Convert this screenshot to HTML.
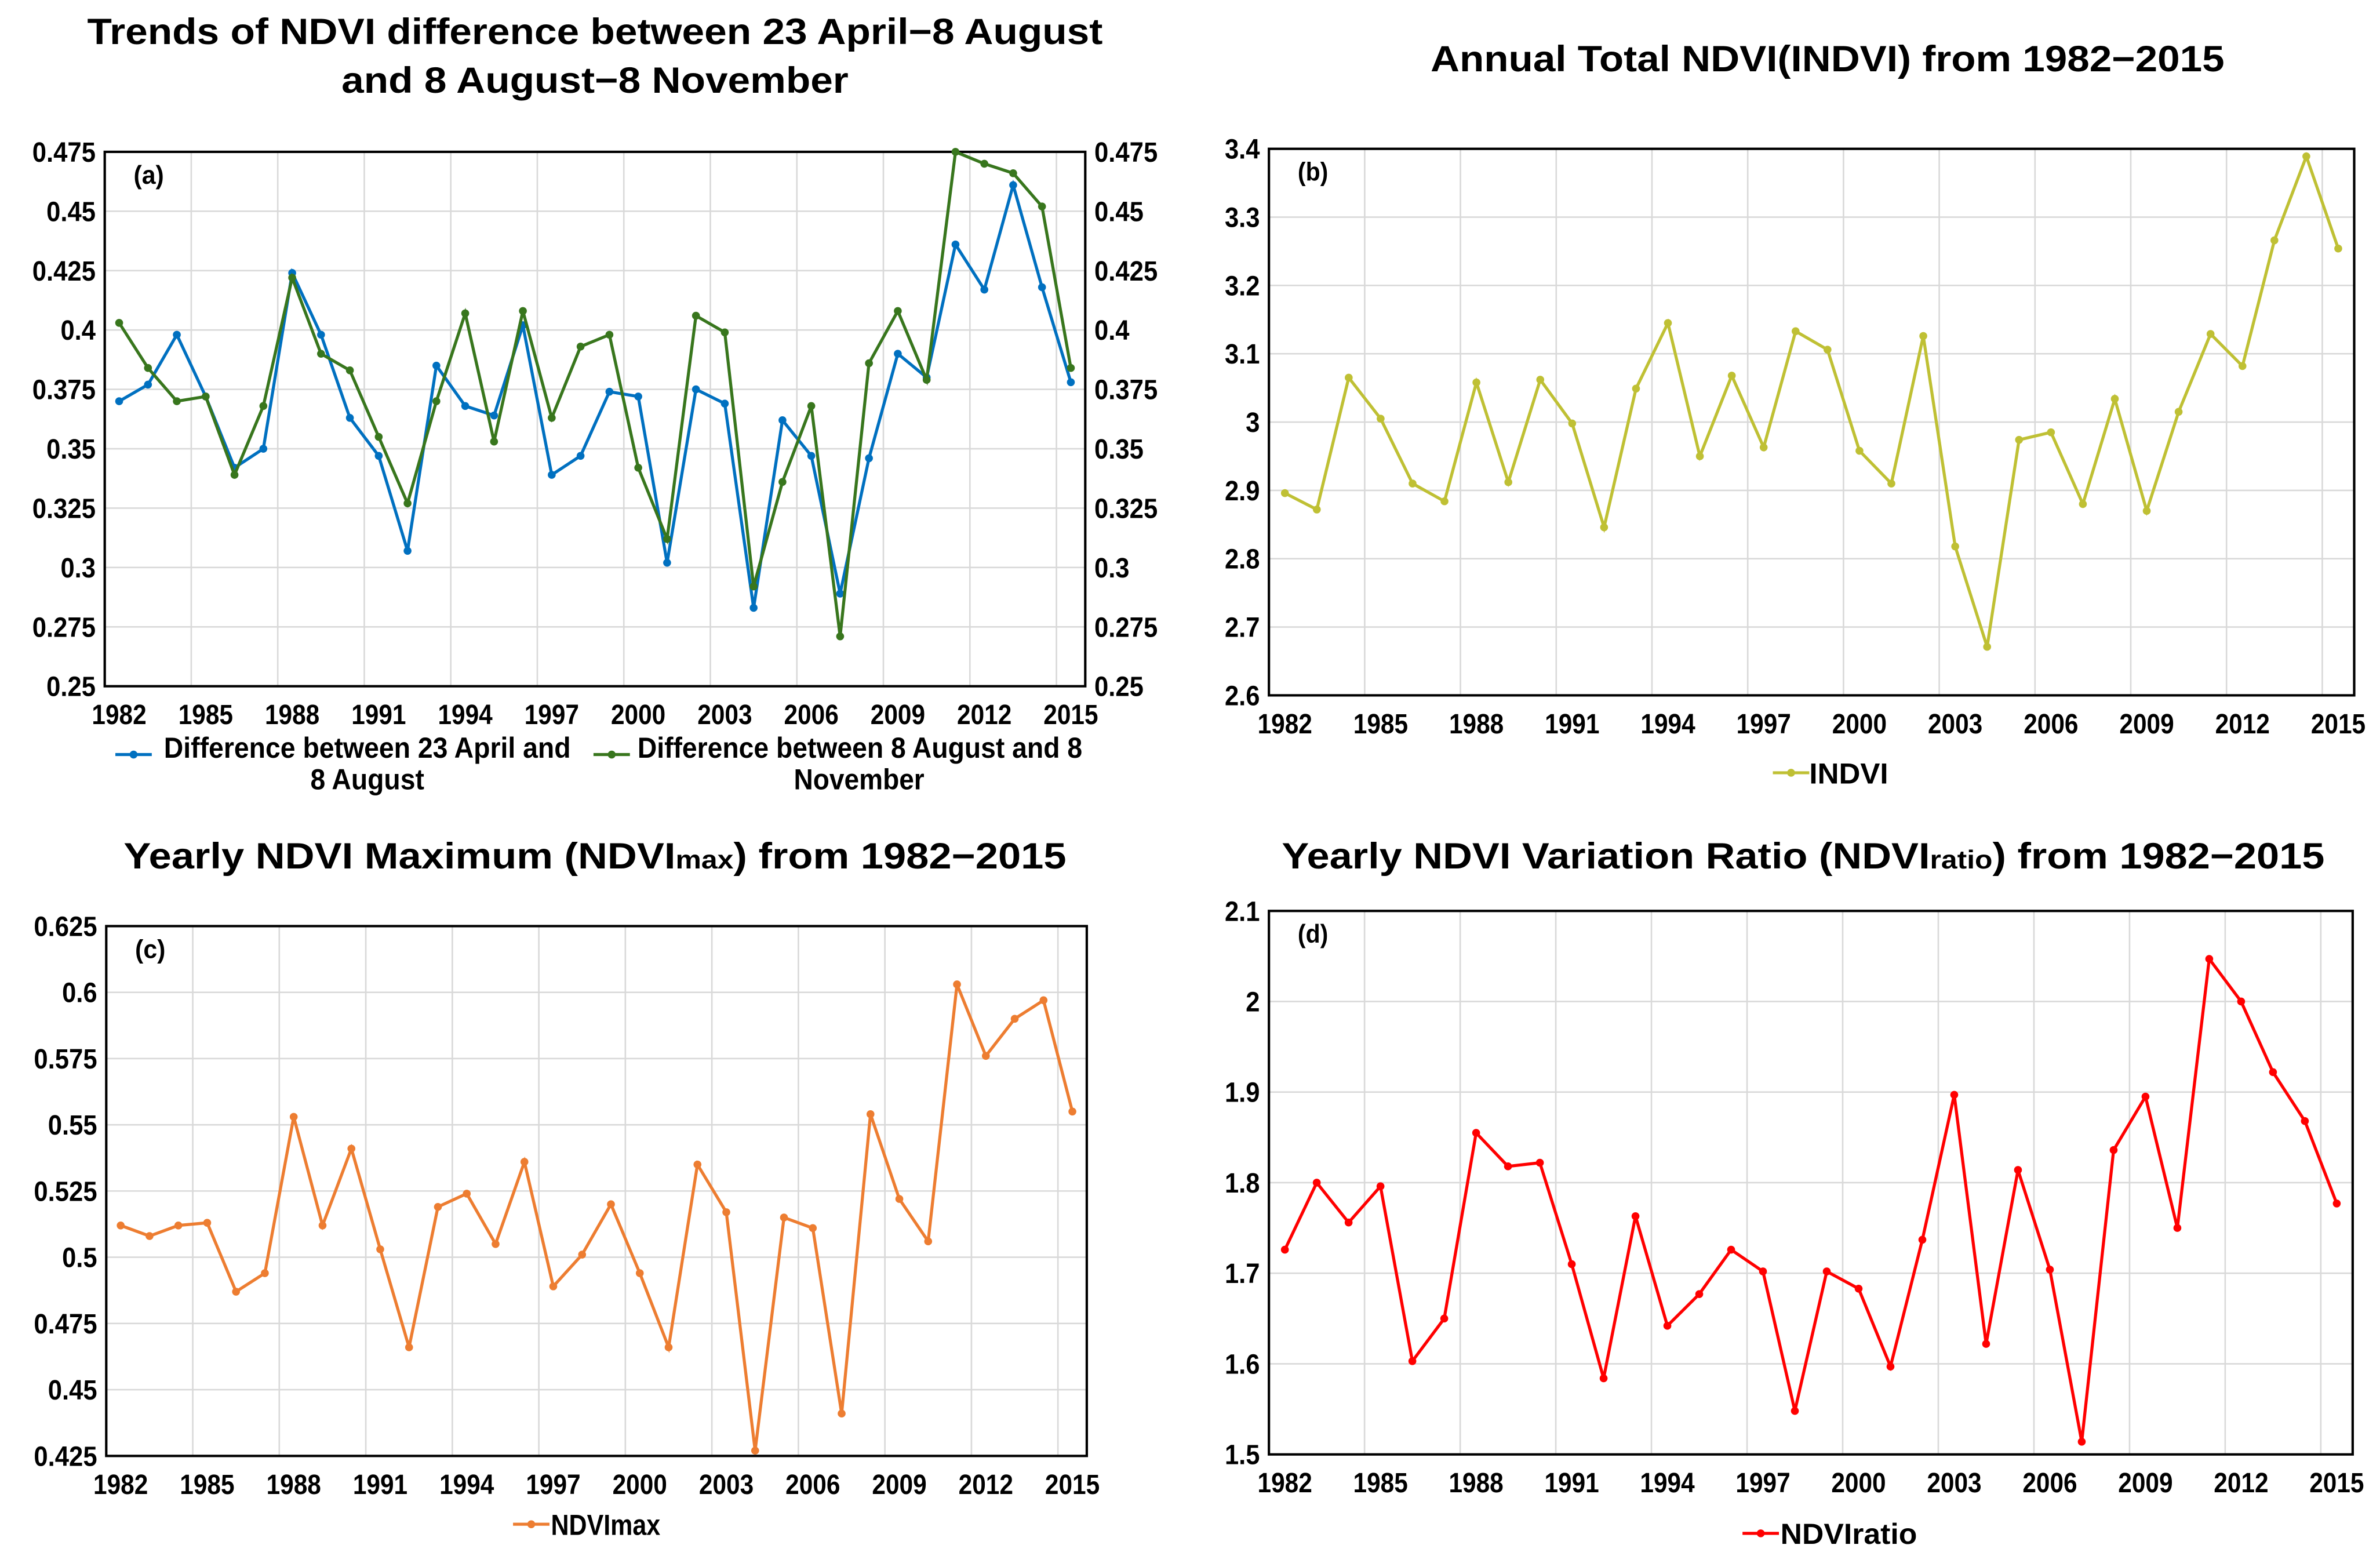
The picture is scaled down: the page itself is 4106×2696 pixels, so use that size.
<!DOCTYPE html>
<html><head><meta charset="utf-8">
<style>
html,body{margin:0;padding:0;background:#fff;}
svg{display:block;}
text{font-family:"Liberation Sans Narrow","Liberation Sans",sans-serif;font-weight:bold;fill:#000;}
</style></head>
<body>
<svg id="chart" width="4106" height="2696" viewBox="0 0 1568 1029.5" xmlns="http://www.w3.org/2000/svg">
<rect width="1568" height="1029.5" fill="#fff"/>
</svg>
<script>
const years = [];
for (let y = 1982; y <= 2015; y++) years.push(y);
const diffAprAug = [0.370,0.377,0.398,0.372,0.342,0.350,0.424,0.398,0.363,0.347,0.307,0.385,0.368,0.364,0.402,0.339,0.347,0.374,0.372,0.302,0.375,0.369,0.283,0.362,0.347,0.289,0.346,0.390,0.380,0.436,0.417,0.461,0.418,0.378];
const diffAugNov = [0.403,0.384,0.370,0.372,0.339,0.368,0.422,0.390,0.383,0.355,0.327,0.370,0.407,0.353,0.408,0.363,0.393,0.398,0.342,0.312,0.406,0.399,0.292,0.336,0.368,0.271,0.386,0.408,0.379,0.475,0.470,0.466,0.452,0.384];
const indvi = [2.896,2.872,3.065,3.005,2.910,2.884,3.058,2.912,3.062,2.998,2.846,3.049,3.145,2.950,3.068,2.963,3.133,3.106,2.958,2.910,3.126,2.818,2.671,2.974,2.985,2.880,3.034,2.870,3.015,3.129,3.082,3.266,3.389,3.254];
const ndviMax = [0.512,0.508,0.512,0.513,0.487,0.494,0.553,0.512,0.541,0.503,0.466,0.519,0.524,0.505,0.536,0.489,0.501,0.520,0.494,0.466,0.535,0.517,0.427,0.515,0.511,0.441,0.554,0.522,0.506,0.603,0.576,0.590,0.597,0.555];
const ndviRatio = [1.726,1.800,1.756,1.796,1.603,1.650,1.855,1.818,1.822,1.710,1.584,1.763,1.642,1.677,1.726,1.702,1.548,1.702,1.683,1.597,1.737,1.897,1.622,1.814,1.704,1.514,1.836,1.895,1.750,2.047,2.000,1.922,1.868,1.777];
const ticksA = ["0.25","0.275","0.3","0.325","0.35","0.375","0.4","0.425","0.45","0.475"];
const ticksB = ["2.6","2.7","2.8","2.9","3","3.1","3.2","3.3","3.4"];
const ticksC = ["0.425","0.45","0.475","0.5","0.525","0.55","0.575","0.6","0.625"];
const ticksD = ["1.5","1.6","1.7","1.8","1.9","2","2.1"];

const NS = "http://www.w3.org/2000/svg";
const svg = document.getElementById('chart');
function mk(tag, attrs, parent) {
  const e = document.createElementNS(NS, tag);
  for (const k in attrs) e.setAttribute(k, attrs[k]);
  (parent || svg).appendChild(e);
  return e;
}
function txt(s, x, y, size, anchor, parent, tl) {
  const t = mk('text', {x: x, y: y, 'font-size': size, 'text-anchor': anchor || 'middle'}, parent);
  if (tl) { t.setAttribute('textLength', tl); t.setAttribute('lengthAdjust', 'spacingAndGlyphs'); }
  t.textContent = s;
  return t;
}
function numLen(s) {
  let w = 0;
  for (const ch of s) w += (ch === '.') ? 4.5 : 9.3;
  return w;
}

function panel(cfg) {
  const g = mk('g', {});
  
  
  const L = cfg.l, R = cfg.r, T = cfg.t, B = cfg.b;
  const ticks = cfg.ticks.map(Number);
  const ymin = ticks[0], ymax = ticks[ticks.length - 1];
  const band = (R - L) / years.length;
  const xs = i => L + band * (i + 0.5);
  const ys = v => B - (v - ymin) / (ymax - ymin) * (B - T);
  const grid = mk('g', {}, g);
  
  
  cfg.ticks.forEach((s, i) => {
    const y = ys(Number(s));
    mk('line', {x1: L, x2: R, y1: y, y2: y, stroke: '#d9d9d9', 'stroke-width': 1}, grid);
    const lab = txt(s, L - 6, y + 6.5, 18.5, 'end', g, numLen(s));
    
    
    if (cfg.right) {
      const r2 = txt(s, R + 6, y + 6.5, 18.5, 'start', g, numLen(s));
      
      
    }
  });
  for (let i = 3; i < years.length; i += 3) {
    const x = L + band * i;
    mk('line', {x1: x, x2: x, y1: T, y2: B, stroke: '#d9d9d9', 'stroke-width': 1}, grid);
  }
  years.forEach((yr, i) => {
    if (i % 3 === 0) {
      const t = txt(String(yr), xs(i), B + 25, 18.5, 'middle', g, 36);
      
      
    }
  });
  const frame = mk('rect', {x: L, y: T, width: R - L, height: B - T, fill: 'none', stroke: '#000', 'stroke-width': 1.6}, g);
  
  
  const pl = txt(cfg.label, L + 19, T + 21, 17, 'start', g, 20);
  
  
  cfg.series.forEach(s => {
    const sg = mk('g', {}, g);
    
    
    const pts = s.data.map((v, i) => xs(i).toFixed(2) + ',' + ys(v).toFixed(2)).join(' ');
    const line = mk('polyline', {points: pts, fill: 'none', stroke: s.color, 'stroke-width': 2}, sg);
    
    
    s.data.forEach((v, i) => {
      const c = mk('circle', {cx: xs(i), cy: ys(v), r: 2.6, fill: s.color}, sg);
      
      
    });
  });
  return g;
}
function legendMark(x, y, color, parent) {
  const lg = mk('g', {}, parent);
  
  
  mk('line', {x1: x, x2: x + 24, y1: y, y2: y, stroke: color, 'stroke-width': 2}, lg);
  mk('circle', {cx: x + 12, cy: y, r: 2.6, fill: color}, lg);
}

panel({name: 'panel-a', l: 69, r: 715, t: 100, b: 452, ticks: ticksA, right: true, label: '(a)',
  series: [{name: 'series-apr-aug', data: diffAprAug, color: '#0070c0'}, {name: 'series-aug-nov', data: diffAugNov, color: '#38761d'}]});
let t;
t = txt('Trends of NDVI difference between 23 April\u22128 August', 392, 29, 24, 'middle', svg, 669);


t = txt('and 8 August\u22128 November', 392, 61, 24, 'middle', svg, 334);


const lgA = mk('g', {});


legendMark(76, 497, '#0070c0', lgA);
t = txt('Difference between 23 April and', 108, 499, 19, 'start', lgA, 268);


txt('8 August', 242, 520, 19, 'middle', lgA, 75);
legendMark(391, 497, '#38761d', lgA);
t = txt('Difference between 8 August and 8', 420, 499, 19, 'start', lgA, 293);


txt('November', 566, 520, 19, 'middle', lgA, 86);

panel({name: 'panel-b', l: 836, r: 1551, t: 98, b: 458, ticks: ticksB, label: '(b)',
  series: [{name: 'series-indvi', data: indvi, color: '#bfc034'}]});
t = txt('Annual Total NDVI(INDVI) from 1982\u22122015', 1204, 47, 24, 'middle', svg, 523);


legendMark(1168, 509, '#bfc034');
t = txt('INDVI', 1192, 516, 19, 'start', svg, 52);



panel({name: 'panel-c', l: 70, r: 716, t: 610, b: 959, ticks: ticksC, label: '(c)',
  series: [{name: 'series-ndvimax', data: ndviMax, color: '#ed7d31'}]});
t = mk('text', {x: 392, y: 572, 'font-size': 24, 'text-anchor': 'middle', textLength: 621, lengthAdjust: 'spacingAndGlyphs'});


t.innerHTML = 'Yearly NDVI  Maximum (NDVI<tspan font-size="17">max</tspan>) from 1982\u22122015';
legendMark(338, 1004, '#ed7d31');
t = txt('NDVImax', 363, 1011, 19, 'start', svg, 72);



panel({name: 'panel-d', l: 836, r: 1550, t: 600, b: 958, ticks: ticksD, label: '(d)',
  series: [{name: 'series-ndviratio', data: ndviRatio, color: '#ff0000'}]});
t = mk('text', {x: 1188, y: 572, 'font-size': 24, 'text-anchor': 'middle', textLength: 687, lengthAdjust: 'spacingAndGlyphs'});


t.innerHTML = 'Yearly NDVI  Variation Ratio (NDVI<tspan font-size="17">ratio</tspan>) from 1982\u22122015';
legendMark(1148, 1010, '#ff0000');
t = txt('NDVIratio', 1173, 1017, 19, 'start', svg, 90);


</script>
</body></html>
